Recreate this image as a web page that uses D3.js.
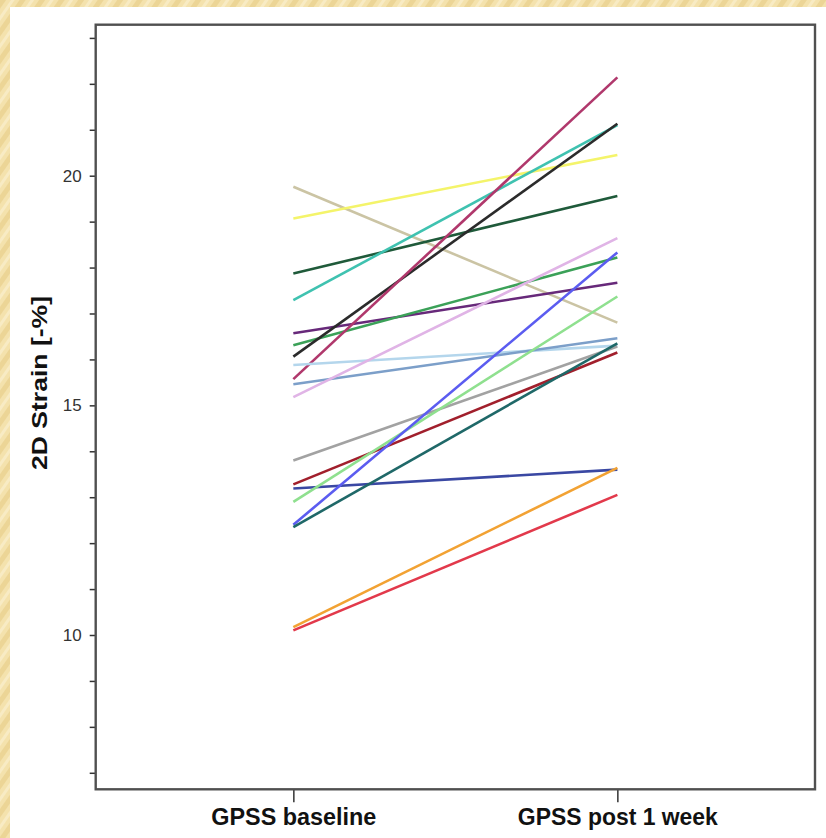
<!DOCTYPE html>
<html>
<head>
<meta charset="utf-8">
<script src="https://cdn.jsdelivr.net/npm/d3@7"></script>
<style>
  html, body { margin: 0; padding: 0; background: #f1dca4; }
  svg { display: block; }
</style>
</head>
<body>
<svg id="chart" width="826" height="838"></svg>
<script>
// time points on the x axis
const groups = ['GPSS baseline', 'GPSS post 1 week']
// one entry per patient
const subjects = ['s1', 's2', 's3', 's4', 's5', 's6', 's7', 's8', 's9', 's10',
  's11', 's12', 's13', 's14', 's15', 's16', 's17', 's18', 's19']
const baseline = [19.76, 19.07, 17.87, 17.29, 16.57, 16.31, 16.06, 15.57, 15.88, 15.46,
  15.18, 13.8, 13.28, 13.19, 12.9, 12.4, 12.35, 10.17, 10.1]
const post1Week = [16.8, 20.45, 19.56, 21.1, 17.67, 18.22, 21.13, 22.14, 16.3, 16.46,
  18.64, 16.28, 16.15, 13.6, 17.37, 18.33, 16.35, 13.64, 13.05]
const yTicks = d3.range(7, 24)
const yLabels = [10, 15, 20]

const svg = d3.select('#chart')
const W = 826
const H = 838
const narrow = 'Liberation Sans, Arial, sans-serif'

// parchment background
const defs = svg.append('defs')
const pat = defs.append('pattern')
  .attr('id', 'paper')
  .attr('width', 16).attr('height', 16)
  .attr('patternUnits', 'userSpaceOnUse')
  .attr('patternTransform', 'rotate(35)')
pat.append('rect').attr('width', 16).attr('height', 16).attr('fill', '#f4e2ad')
pat.append('rect').attr('width', 5).attr('height', 16).attr('fill', '#ecd596')
pat.append('rect').attr('x', 9).attr('width', 3).attr('height', 16).attr('fill', '#f8ebc4')
svg.append('rect').attr('width', W).attr('height', H).attr('fill', 'url(#paper)')
svg.append('rect').attr('x', 10).attr('y', 7).attr('width', W - 10).attr('height', H - 7).attr('fill', '#ffffff')

const plot = { left: 95.7, top: 24.7, right: 815, bottom: 789.3 }

const x = d3.scalePoint()
  .domain(groups)
  .range([plot.left, plot.right])
  .padding(0.61)

const y = d3.scaleLinear()
  .domain([20 + (175.7 - plot.top) / 45.93, 10 - (plot.bottom - 635) / 45.93])
  .range([plot.top, plot.bottom])

const color = d3.scaleOrdinal()
  .domain(subjects)
  .range(['#cbc4a4', '#f4f46a', '#1f5a3a', '#3fc2b0', '#67297a', '#3ba158', '#2b2b2b',
    '#b0386c', '#b4d6ec', '#7c9fc9', '#e0b4e6', '#a2a2a2', '#a11f2c', '#3a48a3',
    '#8fe08f', '#5b5cf0', '#1f6868', '#f2a233', '#e2394b'])

// y axis
const yAxis = d3.axisLeft(y)
  .tickValues(yTicks)
  .tickSize(6)
  .tickPadding(8)
  .tickFormat(d => yLabels.includes(d) ? d : '')
svg.append('g')
  .attr('transform', `translate(${plot.left},0)`)
  .call(yAxis)
  .call(g => g.select('.domain').remove())
  .call(g => g.selectAll('line').attr('stroke', '#333').attr('stroke-width', 1.5))
  .call(g => g.selectAll('text')
    .attr('font-family', 'Liberation Sans, Arial, sans-serif')
    .attr('font-size', 17)
    .attr('fill', '#333'))

// x axis
const labelWidth = { 'GPSS baseline': 165, 'GPSS post 1 week': 200 }
const xAxis = d3.axisBottom(x).tickSize(13).tickPadding(6)
svg.append('g')
  .attr('transform', `translate(0,${plot.bottom})`)
  .call(xAxis)
  .call(g => g.select('.domain').remove())
  .call(g => g.selectAll('line').attr('stroke', '#333').attr('stroke-width', 1.5))
  .call(g => g.selectAll('text')
    .attr('font-family', narrow)
    .attr('font-weight', 'bold')
    .attr('font-size', 23)
    .attr('textLength', d => labelWidth[d])
    .attr('lengthAdjust', 'spacingAndGlyphs')
    .attr('fill', '#111'))

// lines, one per subject
const rows = subjects.map((s, i) => ({ id: s, values: [baseline[i], post1Week[i]] }))
const line = d3.line()
  .x((d, i) => x(groups[i]))
  .y(d => y(d))
svg.append('g')
  .selectAll('path')
  .data(rows)
  .enter()
  .append('path')
  .attr('d', d => line(d.values))
  .attr('fill', 'none')
  .attr('stroke', d => color(d.id))
  .attr('stroke-width', 2.6)

// frame
svg.append('rect')
  .attr('x', plot.left)
  .attr('y', plot.top)
  .attr('width', plot.right - plot.left)
  .attr('height', plot.bottom - plot.top)
  .attr('fill', 'none')
  .attr('stroke', '#505050')
  .attr('stroke-width', 2.4)

// y title
svg.append('text')
  .attr('transform', `translate(47,${383}) rotate(-90)`)
  .attr('text-anchor', 'middle')
  .attr('font-family', narrow)
  .attr('font-weight', 'bold')
  .attr('font-size', 22)
  .attr('textLength', 174)
  .attr('lengthAdjust', 'spacingAndGlyphs')
  .attr('fill', '#111')
  .text('2D Strain [-%]')
</script>
</body>
</html>
